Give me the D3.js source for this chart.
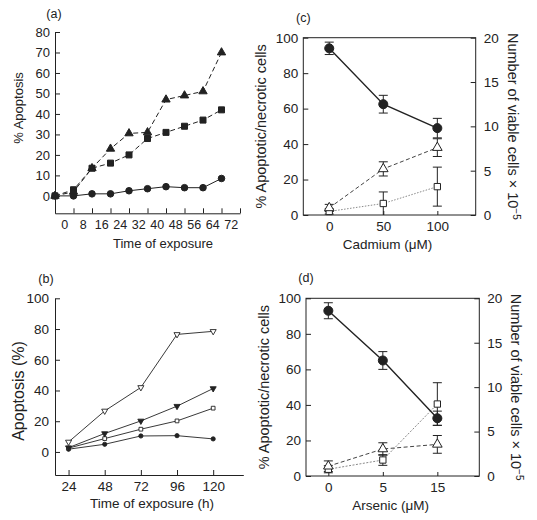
<!DOCTYPE html>
<html><head><meta charset="utf-8">
<script src="https://cdn.jsdelivr.net/npm/d3@7"></script>
<style>
body{margin:0;background:#fff}
svg text{font-family:"Liberation Sans",Arial,Helvetica,sans-serif;fill:#222}
</style>
</head><body>
<svg id="chart" width="537" height="520"></svg>
<script>
// ---------- Panel (a) ----------
const aTickLabels = [0, 8, 16, 24, 32, 40, 48, 56, 64, 72];
const aTimes = [0, 8, 16, 24, 32, 40, 48, 56, 64, 72];
const aCircle = [0, 0, 1, 1, 2.5, 3.5, 4.5, 4, 4, 8.5];
const aSquare = [0, 3, 13.5, 16, 20, 28, 31, 34, 37, 42];
const aTriangle = [0, 2, 13.5, 23, 30.5, 31, 47, 49, 51, 70];
const aYTicks = [0, 10, 20, 30, 40, 50, 60, 70, 80];

// ---------- Panel (b) ----------
const bTimes = [24, 48, 72, 96, 120];
const bOpenTriDown = [6.5, 26.7, 42, 76.5, 78.5];
const bFilledTriDown = [2.8, 12, 20.2, 29.8, 41.3];
const bOpenSquare = [2.5, 8.7, 14.8, 20.2, 28.5];
const bFilledCircle = [1.8, 5, 10.4, 10.6, 8.5];
const bYTicks = [0, 20, 40, 60, 80, 100];

// ---------- Panel (c) Cadmium ----------
const cDoses = ["0", "50", "100"];
const cViable = [18.8, 12.5, 9.8];          // right axis (x10^-5)
const cViableErr = [0.7, 1.0, 1.1];
const cTriangle = [4, 26, 38];              // left axis (%)
const cTriangleErr = [2, 4, 5];
const cSquare = [2, 6.5, 16];
const cSquareErr = [1.5, 6.5, 11];

// ---------- Panel (d) Arsenic ----------
const dDoses = ["0", "5", "15"];
const dViable = [18.6, 13, 6.5];
const dViableErr = [0.9, 1.0, 0.8];
const dTriangle = [5.5, 15.2, 17.8];
const dTriangleErr = [3, 3.5, 5];
const dSquare = [3.8, 9, 40.5];
const dSquareErr = [2, 3, 12];

const leftTicks = [0, 20, 40, 60, 80, 100];
const rightTicks = [0, 5, 10, 15, 20];

const svg = d3.select("#chart");
const INK = "#222";
const TICK_FS = "13px";
const TITLE_FS = "13px";

function styleAxis(g, fs) {
  g.selectAll("path,line").attr("stroke", INK).attr("stroke-width", 1);
  g.selectAll("text").attr("font-size", fs || TICK_FS).attr("fill", INK)
    .style("font-family", '"Liberation Sans",Arial,sans-serif');
}

function drawLine(g, xs, ys, x, y, opts) {
  const line = d3.line().x(d => x(d[0])).y(d => y(d[1]));
  g.append("path").datum(xs.map((v, i) => [v, ys[i]]))
    .attr("d", line).attr("fill", "none")
    .attr("stroke", opts.stroke || INK)
    .attr("stroke-width", opts.width || 1)
    .attr("stroke-dasharray", opts.dash || null);
}

function drawMarkers(g, xs, ys, x, y, opts) {
  g.selectAll(null).data(xs.map((v, i) => [v, ys[i]])).enter()
    .append("path")
    .attr("d", d3.symbol().type(opts.type).size(opts.size))
    .attr("transform", d => `translate(${x(d[0])},${y(d[1])})` + (opts.rotate ? ` rotate(${opts.rotate})` : ""))
    .attr("fill", opts.fill ? INK : "#fff")
    .attr("stroke", INK).attr("stroke-width", opts.sw || 1);
}

function drawErr(g, xs, ys, es, x, y, cap) {
  xs.forEach((v, i) => {
    const cx = x(v), y1 = y(ys[i] + es[i]), y2 = y(Math.max(ys[i] - es[i], y.domain()[0]));
    g.append("line").attr("x1", cx).attr("x2", cx).attr("y1", y1).attr("y2", y2).attr("stroke", INK);
    g.append("line").attr("x1", cx - cap).attr("x2", cx + cap).attr("y1", y1).attr("y2", y1).attr("stroke", INK);
    if (ys[i] - es[i] > y.domain()[0])
      g.append("line").attr("x1", cx - cap).attr("x2", cx + cap).attr("y1", y2).attr("y2", y2).attr("stroke", INK);
  });
}

function label(txt, x, y, opts = {}) {
  const t = svg.append("text").attr("x", x).attr("y", y)
    .attr("font-size", opts.fs || TITLE_FS)
    .attr("text-anchor", opts.anchor || "middle");
  if (opts.rotate) t.attr("transform", `rotate(${opts.rotate},${x},${y})`);
  t.text(txt);
  return t;
}

// ================= Panel (a) =================
{
  const g = svg.append("g");
  const x = d3.scaleLinear().domain([0, 80]).range([55, 240]);
  const xLab = d3.scaleLinear().domain([-4, 76]).range([55, 240]);
  const y = d3.scaleLinear().domain([-8.5, 80]).range([213.3, 32]);
  g.append("g").attr("transform", "translate(0,213.3)")
    .call(d3.axisBottom(x).tickValues(d3.range(8, 81, 8)).tickSize(-5).tickSizeOuter(0).tickFormat(""))
    .call(styleAxis);
  g.append("g").attr("transform", "translate(0,213.3)")
    .call(d3.axisBottom(xLab).tickValues(aTickLabels).tickSize(0).tickPadding(7))
    .call(a => a.select(".domain").remove())
    .call(styleAxis, "12.5px");
  g.append("g").attr("transform", "translate(55,0)")
    .call(d3.axisLeft(y).tickValues(aYTicks).tickSize(-5).tickSizeOuter(0).tickPadding(5))
    .call(styleAxis);
  drawLine(g, aTimes, aCircle, x, y, {});
  drawLine(g, aTimes, aSquare, x, y, { dash: "5,3" });
  drawLine(g, aTimes, aTriangle, x, y, { dash: "5,3" });
  drawMarkers(g, aTimes, aCircle, x, y, { type: d3.symbolCircle, size: 34, fill: true });
  drawMarkers(g, aTimes, aSquare, x, y, { type: d3.symbolSquare, size: 36, fill: true });
  drawMarkers(g, aTimes, aTriangle, x, y, { type: d3.symbolTriangle, size: 30, fill: true });
  label("(a)", 54, 18, { fs: "12.5px" });
  label("Time of exposure", 163, 248);
  label("% Apoptosis", 23, 108, { rotate: -90 });
}

// ================= Panel (b) =================
{
  const g = svg.append("g");
  const x = d3.scaleLinear().domain([15, 140]).range([55, 243.3]);
  const y = d3.scaleLinear().domain([-15, 100]).range([475, 298.3]);
  g.append("g").attr("transform", "translate(0,475)")
    .call(d3.axisBottom(x).tickValues(bTimes).tickSize(-5).tickSizeOuter(0).tickPadding(6))
    .call(styleAxis, "13.5px");
  g.append("g").attr("transform", "translate(55,0)")
    .call(d3.axisLeft(y).tickValues(bYTicks).tickSize(-5).tickSizeOuter(0).tickPadding(6))
    .call(styleAxis, "13.5px");
  const series = [
    [bFilledCircle, { type: d3.symbolCircle, size: 14, fill: true }],
    [bOpenSquare, { type: d3.symbolSquare, size: 14, fill: false }],
    [bFilledTriDown, { type: d3.symbolTriangle, size: 16, fill: true, rotate: 180 }],
    [bOpenTriDown, { type: d3.symbolTriangle, size: 16, fill: false, rotate: 180 }]
  ];
  series.forEach(s => drawLine(g, bTimes, s[0], x, y, { width: 0.9 }));
  series.forEach(s => drawMarkers(g, bTimes, s[0], x, y, Object.assign({ sw: 0.9 }, s[1])));
  label("(b)", 46, 283, { fs: "12.5px" });
  label("Time of exposure (h)", 152, 508, { fs: "13.5px" });
  label("Apoptosis (%)", 24, 391, { rotate: -90, fs: "16px" });
}

// ================= Panels (c) and (d) =================
function dosePanel(p) {
  const g = svg.append("g");
  const x = d3.scaleLinear().domain(p.xDom).range([p.left, p.right]);
  const y = d3.scaleLinear().domain([0, 100]).range([p.bottom, p.top]);
  const yr = d3.scaleLinear().domain([0, 20]).range([p.bottom, p.top]);
  const idx = p.doses.map((d, i) => i);
  g.append("rect").attr("x", p.left).attr("y", p.top)
    .attr("width", p.right - p.left).attr("height", p.bottom - p.top)
    .attr("fill", "none").attr("stroke", INK);
  g.append("g").attr("transform", `translate(0,${p.bottom})`)
    .call(d3.axisBottom(x).tickValues(idx).tickFormat(i => p.doses[i]).tickSize(-4).tickSizeOuter(0).tickPadding(6))
    .call(a => a.select(".domain").remove()).call(styleAxis, "13.5px");
  g.append("g").attr("transform", `translate(${p.left},0)`)
    .call(d3.axisLeft(y).tickValues(leftTicks).tickSize(-5).tickSizeOuter(0).tickPadding(5))
    .call(a => a.select(".domain").remove()).call(styleAxis, "13.5px");
  g.append("g").attr("transform", `translate(${p.right},0)`)
    .call(d3.axisRight(yr).tickValues(rightTicks).tickSize(-5).tickSizeOuter(0).tickPadding(8))
    .call(a => a.select(".domain").remove()).call(styleAxis, "13.5px");

  drawLine(g, idx, p.sq, x, y, { stroke: "#8a8a8a", dash: p.sqDash, width: 1 });
  drawLine(g, idx, p.tri, x, y, { stroke: "#444", dash: "4,2.5", width: 1 });
  drawLine(g, idx, p.viable, x, yr, { width: 1.4 });
  drawErr(g, idx, p.sq, p.sqErr, x, y, 4.5);
  drawErr(g, idx, p.tri, p.triErr, x, y, 4.5);
  drawErr(g, idx, p.viable, p.viableErr, x, yr, 4.5);
  drawMarkers(g, idx, p.sq, x, y, { type: d3.symbolSquare, size: 40, fill: false });
  drawMarkers(g, idx, p.tri, x, y, { type: d3.symbolTriangle, size: 40, fill: false });
  drawMarkers(g, idx, p.viable, x, yr, { type: d3.symbolCircle, size: 64, fill: true });

  label(p.tag, p.left, p.top - 16, { fs: "12.5px" });
  label(p.xTitle, (p.left + p.right) / 2 - 2, p.bottom + 34, { fs: "13.5px" });
  label("% Apoptotic/necrotic cells", p.left - 37, (p.top + p.bottom) / 2, { rotate: -90, fs: "14.5px" });
  const r = label("", p.right + 32, (p.top + p.bottom) / 2, { rotate: 90, fs: "14.5px" });
  r.append("tspan").text("Number of viable cells \u00d7 10");
  r.append("tspan").attr("baseline-shift", "super").attr("font-size", "10px").text("\u22125");
}

dosePanel({
  tag: "(c)", doses: cDoses, xDom: [-0.48, 2.71],
  left: 303.3, right: 475.7, top: 37.7, bottom: 215,
  viable: cViable, viableErr: cViableErr, tri: cTriangle, triErr: cTriangleErr,
  sq: cSquare, sqErr: cSquareErr, sqDash: "1.5,1.5", xTitle: "Cadmium (\u03bcM)"
});
dosePanel({
  tag: "(d)", doses: dDoses, xDom: [-0.41, 2.77],
  left: 306, right: 479.3, top: 298.3, bottom: 476,
  viable: dViable, viableErr: dViableErr, tri: dTriangle, triErr: dTriangleErr,
  sq: dSquare, sqErr: dSquareErr, sqDash: "2,1.5", xTitle: "Arsenic (\u03bcM)"
});
</script>
</body></html>
